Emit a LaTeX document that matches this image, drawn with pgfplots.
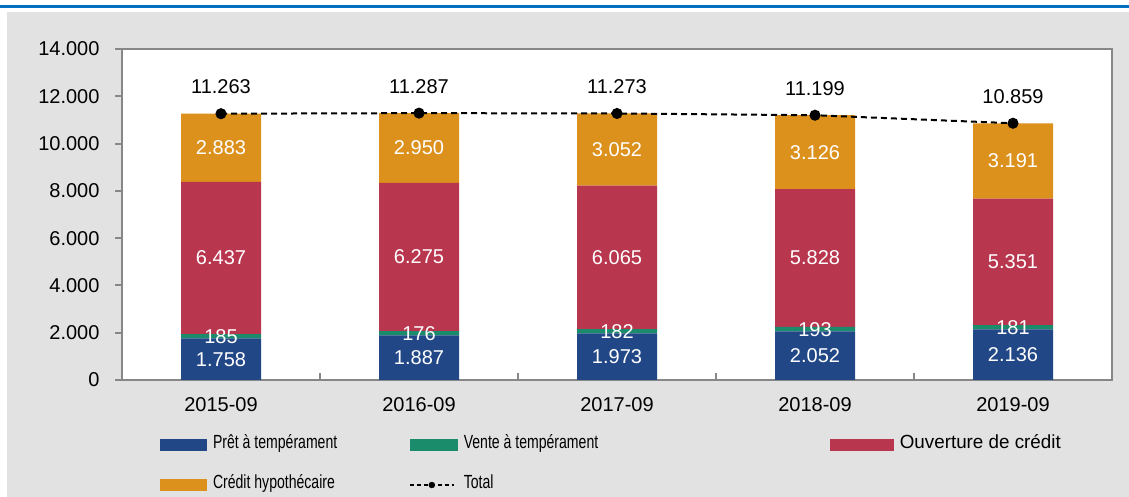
\documentclass[border=0pt]{standalone}
\usepackage{fontspec}
\setmainfont{Liberation Sans}
\newfontfamily\legfont[FakeStretch=0.74]{Liberation Sans}
\newfontfamily\legfontwide[FakeStretch=0.99]{Liberation Sans}
\usepackage{pgfplots}
\usepackage{pgfplotstable}
\pgfplotsset{compat=1.18}

\definecolor{barblue}{HTML}{224787}
\definecolor{bargreen}{HTML}{1A8C6C}
\definecolor{barred}{HTML}{B8374F}
\definecolor{barorange}{HTML}{DC911D}
\definecolor{bggray}{HTML}{E2E2E2}
\definecolor{axisgray}{HTML}{878787}
\definecolor{topblue}{HTML}{0070C0}

% encours par type de credit (septembre)
\pgfplotstableread{
x pret vente ouv hyp total
0 1758 185 6437 2883 11263
1 1887 176 6275 2950 11287
2 1973 182 6065 3052 11273
3 2052 193 5828 3126 11199
4 2136 181 5351 3191 10859
}\datatable

\newcommand{\tickfont}{\fontsize{20bp}{23bp}\selectfont}
\newcommand{\labfont}{\fontsize{20bp}{23bp}\selectfont}

\pgfplotsset{
  common/.style={
    scale only axis,
    width=990bp, height=331bp,
    at={(122bp,117bp)}, anchor=south west,
    xmin=-0.5, xmax=4.5, ymin=0, ymax=14000,
    enlargelimits=false,
    scaled y ticks=false,
    /pgf/number format/.cd, fixed, 1000 sep={.}, assume math mode=true,
  },
  bar legend/.style={
    legend image code/.code={\fill[##1] (0bp,-6bp) rectangle (#1,6bp);}
  },
}

\begin{document}
\begin{tikzpicture}
\useasboundingbox (0,0) rectangle (1129bp,497bp);
\fill[white] (0,0) rectangle (1129bp,497bp);
\fill[bggray] (7bp,0) rectangle (1129bp,485bp);
\draw[topblue, line width=2.2bp] (0,490.5bp) -- (1129bp,490.5bp);

\begin{axis}[
  common,
  ybar stacked,
  bar width=80bp,
  axis background/.style={fill=white},
  axis line style={draw=axisgray, line width=2.5bp},
  ytick={0,2000,...,14000},
  ytick pos=left,
  ytick align=outside,
  xtick={0,...,4},
  xticklabels={2015-09,2016-09,2017-09,2018-09,2019-09},
  xtick pos=bottom,
  x tick style={draw=none},
  y tick style={draw=axisgray, line width=2bp},
  major tick length=7bp,
  extra x ticks={0.5,1.5,2.5,3.5},
  extra x tick labels={},
  extra x tick style={x tick style={draw=axisgray, line width=2bp}, xtick align=inside},
  ticklabel style={font=\tickfont, text=black},
  yticklabel style={xshift=-12bp},
  xticklabel style={yshift=-14bp},
  legend style={at={(0.0384,-0.1768)}, anchor=north west, draw=none, fill=none,
    inner sep=0pt, outer sep=0pt, legend columns=3,
    font=\legfont\fontsize{19bp}{22bp}\selectfont,
    nodes={inner sep=0pt, text height=10bp, text depth=3bp},
    /tikz/every odd column/.append style={column sep=6bp},
    row sep=27bp},
  legend cell align=left,
]
\addplot[fill=barblue, draw=none, bar legend=47bp] table[x=x, y=pret] {\datatable};
\addlegendentry{\makebox[196bp][l]{Prêt à tempérament}}
\addplot[fill=bargreen, draw=none, bar legend=48bp] table[x=x, y=vente] {\datatable};
\addlegendentry{\makebox[366bp][l]{Vente à tempérament}}
\addplot[fill=barred, draw=none, bar legend=64bp] table[x=x, y=ouv] {\datatable};
\addlegendentry{\legfontwide Ouverture de crédit}
\addplot[fill=barorange, draw=none, bar legend=47bp] table[x=x, y=hyp] {\datatable};
\addlegendentry{Crédit hypothécaire}
\addlegendimage{legend image code/.code={
  \draw[black, line width=1.6bp, dash pattern=on 4bp off 3bp] (0bp,0bp) -- (44bp,0bp);
  \fill[black] (22bp,0bp) circle (3bp);}}
\addlegendentry{Total}
\end{axis}

\begin{axis}[
  common,
  hide axis,
  clip=false,
  every node near coord/.append style={font=\labfont, inner sep=0pt},
]
% segment labels, centred in each segment
\addplot[draw=none, nodes near coords, point meta=explicit,
  every node near coord/.append style={white, anchor=center}]
  table[x=x, y expr=\thisrow{pret}/2, meta=pret] {\datatable};
\addplot[draw=none, nodes near coords, point meta=explicit,
  every node near coord/.append style={white, anchor=center}]
  table[x=x, y expr=\thisrow{pret}+\thisrow{vente}/2, meta=vente] {\datatable};
\addplot[draw=none, nodes near coords, point meta=explicit,
  every node near coord/.append style={white, anchor=center}]
  table[x=x, y expr=\thisrow{pret}+\thisrow{vente}+\thisrow{ouv}/2, meta=ouv] {\datatable};
\addplot[draw=none, nodes near coords, point meta=explicit,
  every node near coord/.append style={white, anchor=center}]
  table[x=x, y expr=\thisrow{pret}+\thisrow{vente}+\thisrow{ouv}+\thisrow{hyp}/2, meta=hyp] {\datatable};
% total line
\addplot[black, line width=2bp, dash pattern=on 6bp off 4bp,
  mark=*, mark size=4.5bp, mark options={solid},
  nodes near coords, point meta=explicit,
  every node near coord/.append style={black, anchor=base, yshift=20bp}]
  table[x=x, y=total, meta=total] {\datatable};
\end{axis}
\end{tikzpicture}
\end{document}
